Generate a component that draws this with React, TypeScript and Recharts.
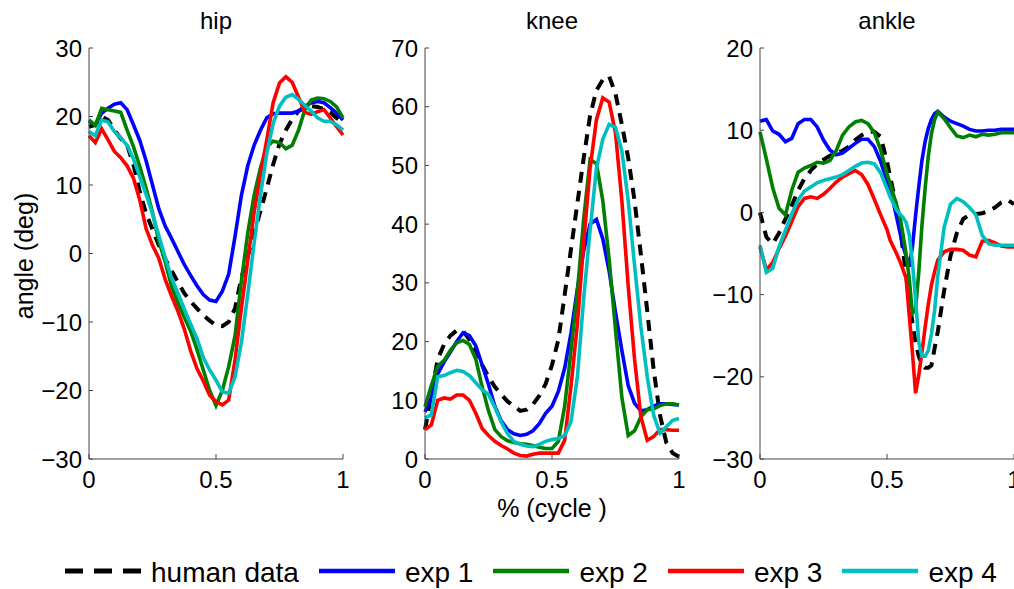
import { LineChart, Line, XAxis, YAxis, Legend } from 'recharts';

const FONT = '"Liberation Sans", Arial, Helvetica, sans-serif';

// x positions (fraction of gait cycle)
const cycle = [0, 0.025, 0.05, 0.075, 0.1, 0.125, 0.15, 0.175, 0.2, 0.225, 0.25, 0.275, 0.3, 0.325, 0.35, 0.375, 0.4, 0.425, 0.45, 0.475, 0.5, 0.525, 0.55, 0.575, 0.6, 0.625, 0.65, 0.675, 0.7, 0.725, 0.75, 0.775, 0.8, 0.825, 0.85, 0.875, 0.9, 0.925, 0.95, 0.975, 1];
const ankleCycle = [0, 0.025, 0.05, 0.075, 0.1, 0.125, 0.15, 0.175, 0.2, 0.225, 0.25, 0.275, 0.3, 0.325, 0.35, 0.375, 0.4, 0.425, 0.45, 0.475, 0.5, 0.5125, 0.525, 0.5375, 0.55, 0.5625, 0.575, 0.5875, 0.6, 0.6125, 0.625, 0.6375, 0.65, 0.6625, 0.675, 0.6875, 0.7, 0.725, 0.75, 0.775, 0.8, 0.825, 0.85, 0.875, 0.9, 0.925, 0.95, 0.975, 1];

// hip (deg)
const hipHuman = [18.5, 18.8, 20, 19.5, 18, 16.8, 15.8, 13, 9, 5.8, 3.5, 1.2, -0.8, -2.5, -4.2, -5.8, -7, -8, -9, -9.8, -10.5, -10.6, -10, -8, -3.5, -0.4, 2.9, 6.2, 9.5, 13, 16, 18, 19.6, 20.8, 21.3, 21.5, 21.4, 21.1, 20.6, 19.8, 19];
const hipExp1 = [19.3, 18.8, 20.5, 21.2, 21.8, 22, 21, 18.8, 16.5, 13.5, 10, 6.5, 4, 2.2, 0.3, -1.6, -3.2, -4.7, -6, -6.8, -7, -5.5, -3, 2.5, 8.5, 12.8, 15.8, 18, 19.8, 20.4, 20.5, 20.5, 20.5, 20.8, 21.5, 22, 22.2, 22, 21.3, 20.5, 19.5];
const hipExp2 = [19.5, 18.7, 21.2, 21, 20.8, 20.6, 18, 15.6, 12.7, 9.5, 6, 1.8, -1.2, -4.8, -7.2, -9.3, -11.3, -14, -17, -20, -22.2, -20, -16.5, -12, -4, 3, 8.5, 12.5, 15.6, 16.4, 16.2, 15.3, 15.8, 18, 21, 22.4, 22.7, 22.6, 22.2, 21.4, 19.8];
const hipExp3 = [17.2, 16.2, 18.2, 16.6, 14.9, 14, 12.8, 11, 7.8, 3.6, 1.2, -0.7, -3.8, -6.2, -8.4, -11, -14.2, -16.8, -18.6, -20.7, -21.6, -22.1, -21.4, -15.5, -8, -1, 6, 11.5, 16.6, 22, 24.9, 25.8, 25, 22.8, 20.6, 20.3, 20.7, 21, 19.8, 18.5, 17.3];
const hipExp4 = [17.8, 17.2, 19.5, 19.2, 17.8, 16.9, 15.8, 13.8, 11.2, 8.6, 5.8, 2.6, -0.6, -3.6, -5.8, -8.1, -10.3, -12.4, -15.2, -17, -18.5, -20.2, -20.4, -18, -13, -6, 1.5, 8.5, 14.6, 19, 21.5, 22.8, 23.2, 22.5, 21.6, 20.8, 19.8, 19.3, 19.3, 18.8, 18];

// knee (deg)
const kneeHuman = [5, 11, 17, 19.5, 21, 21.9, 21.8, 20.3, 18.5, 16, 14, 12.3, 11, 9.8, 9, 8.2, 8.4, 9.3, 10.8, 12.8, 16, 20.3, 28, 35.8, 43.6, 51.3, 58.5, 62.8, 64.6, 65.2, 62.2, 57, 51.3, 44, 34.8, 25.2, 15.3, 7.5, 2.8, 1, 0.4];
const kneeExp1 = [8, 10.5, 14.5, 16.5, 18.2, 20, 21.5, 21, 19.3, 16, 12.7, 9, 6.5, 5, 4.3, 4, 4.2, 4.8, 6, 7.8, 9, 11.5, 15.5, 21.5, 29, 35.5, 40, 40.8, 37.5, 32, 25, 18.5, 12.5, 9.5, 8.2, 8.4, 9, 9.4, 9.4, 9.3, 9.2];
const kneeExp2 = [8.9, 12.5, 15.8, 16.8, 18.5, 19.8, 20.2, 19.5, 17, 12.3, 8.2, 5, 3.8, 3.1, 2.8, 2.6, 2.5, 2.3, 2, 1.8, 1.8, 3, 9, 18.5, 28.5, 41, 51, 50.3, 44, 34, 22, 10.5, 4, 4.8, 7.2, 8.4, 8.5, 9.1, 9.4, 9.4, 9.2];
const kneeExp3 = [5, 5.8, 10, 10.4, 10.2, 10.9, 10.9, 10, 7.8, 5.2, 4, 3, 2.3, 1.7, 1, 0.6, 0.5, 0.8, 1, 1, 1, 1, 3.2, 12.5, 23, 37, 49.5, 57.8, 61.5, 60.8, 55.5, 44, 29.5, 17, 7.2, 3.2, 3.8, 5, 5, 4.9, 4.9];
const kneeExp4 = [7, 7.5, 14, 14.2, 14.7, 15.1, 14.9, 14.2, 13, 11.8, 11, 8.8, 6.3, 4.3, 3, 2.5, 2.2, 2.1, 2.5, 3, 3.3, 3.5, 4, 6.4, 14, 27.5, 39, 49.5, 54.5, 57, 56.5, 52.5, 44, 33, 22.5, 14, 7.5, 4.4, 5.5, 6.6, 6.9];

// ankle (deg)
const ankleHuman = [0, -3, -3.8, -2.5, -0.8, 0.8, 2.7, 4.1, 5.1, 5.9, 6.4, 6.9, 7.2, 7.5, 8, 8.8, 9.4, 9.8, 9.8, 9.2, 6.2, 4.3, 2.5, 0.6, -1.5, -4.5, -7.6, -10.5, -13.4, -15.8, -17.5, -18.5, -18.9, -18.9, -18.6, -16.5, -14.5, -9.5, -5.3, -2.5, -0.8, -0.3, -0.2, -0.1, 0.2, 0.6, 1.2, 1.5, 1];
const ankleExp1 = [11.1, 11.3, 9.9, 9.5, 8.6, 9, 10.8, 11.3, 11.3, 10.4, 8.8, 7.6, 7, 7.2, 7.8, 8.4, 8.9, 8.9, 8, 6.2, 3.8, 2.7, 1.2, -0.5, -2.3, -4, -5.3, -6.6, -4.2, -0.4, 3.1, 6.3, 8.6, 10.2, 11.3, 12, 12.3, 11.6, 11.1, 10.8, 10.5, 10.1, 9.9, 9.9, 10, 10, 10.1, 10.1, 10.1];
const ankleExp2 = [9.8, 6.5, 3, 0.5, -0.3, 2.7, 4.9, 5.4, 5.7, 6.1, 6, 6.3, 7.5, 9.4, 10.4, 11, 11.2, 10.8, 9.7, 7.6, 4.7, 3.5, 2.2, 0.9, -0.4, -2.6, -5, -8, -12.3, -11.8, -7.3, -1.6, 2.9, 6.8, 9.6, 11.3, 12.2, 11.4, 10.3, 9.3, 9.1, 9.4, 9.2, 9.5, 9.4, 9.5, 9.7, 9.7, 9.7];
const ankleExp3 = [-4.2, -7, -6.1, -4.4, -2.9, -1.1, 0.7, 1.7, 1.9, 1.7, 2.2, 2.9, 3.7, 4.3, 4.7, 5.1, 4.6, 3.4, 1.6, -0.3, -2.1, -3.4, -4.2, -5, -5.9, -6.9, -8, -12.5, -17, -22, -19.8, -17, -14, -11.2, -8.8, -7.2, -5.8, -4.8, -4.5, -4.5, -4.6, -5.2, -5.4, -3.5, -3.4, -3.7, -4.1, -4.2, -4.2];
const ankleExp4 = [-4, -7.3, -6.8, -4.2, -2.2, -0.2, 1.5, 2.6, 3.1, 3.6, 3.9, 4.1, 4.3, 4.6, 5.1, 5.6, 6, 6.1, 5.9, 4.8, 2.9, 1.9, 1.1, 0.3, -0.2, -0.6, -1.2, -2.7, -6, -10.5, -15.8, -17.5, -17.5, -16.8, -14.8, -11.9, -7.7, -1.8, 1, 1.7, 1.3, 0.6, -0.3, -2.8, -3.8, -4, -4, -4, -4];

const xTicks = [0, 0.5, 1];
const hipTicks = [-30, -20, -10, 0, 10, 20, 30];
const kneeTicks = [0, 10, 20, 30, 40, 50, 60, 70];
const ankleTicks = [-30, -20, -10, 0, 10, 20];

const seriesKeys = ['human', 'exp1', 'exp2', 'exp3', 'exp4'];
const seriesNames = ['human data', 'exp 1', 'exp 2', 'exp 3', 'exp 4'];
const seriesColors = ['#000000', '#0000ff', '#008000', '#ff0000', '#00bfbf'];

const toRows = (xs: number[], cols: number[][]) =>
  xs.map((c, i) => {
    const row: Record<string, number> = { c };
    seriesKeys.forEach((k, j) => (row[k] = cols[j][i]));
    return row;
  });

const hipRows = toRows(cycle, [hipHuman, hipExp1, hipExp2, hipExp3, hipExp4]);
const kneeRows = toRows(cycle, [kneeHuman, kneeExp1, kneeExp2, kneeExp3, kneeExp4]);
const ankleRows = toRows(ankleCycle, [ankleHuman, ankleExp1, ankleExp2, ankleExp3, ankleExp4]);

const AXIS = '#444';
const fmt = (v: number) => (v < 0 ? '\u2212' + Math.abs(v) : String(v));

const XTick = (p: any) => (
  <g>
    <line x1={p.x} x2={p.x} y1={p.y} y2={p.y - 5} stroke={AXIS} />
    <text x={p.x} y={p.y + 29} textAnchor="middle" fontSize={24} fontFamily={FONT} fill="#000">
      {fmt(p.payload.value)}
    </text>
  </g>
);

const YTick = (p: any) => (
  <g>
    <line x1={p.x} x2={p.x + 4} y1={p.y} y2={p.y} stroke={AXIS} />
    <text x={p.x - 7} y={p.y + 8.5} textAnchor="end" fontSize={24} fontFamily={FONT} fill="#000">
      {fmt(p.payload.value)}
    </text>
  </g>
);

const LegendRow = () => (
  <div style={{ display: 'flex', alignItems: 'center', height: 40, paddingLeft: 65, fontFamily: FONT, fontSize: 28, color: '#000' }}>
    {seriesNames.map((name, i) => (
      <div key={name} style={{ display: 'flex', alignItems: 'center', marginRight: 20 }}>
        <svg width={76} height={10}>
          <line x1={0} x2={76} y1={5} y2={5} stroke={seriesColors[i]} strokeWidth={i === 0 ? 5 : 4.5}
            strokeDasharray={i === 0 ? '18 11' : undefined} />
        </svg>
        <span style={{ marginLeft: 10, lineHeight: '28px', position: 'relative', top: 2, whiteSpace: 'nowrap' }}>{name}</span>
      </div>
    ))}
  </div>
);

interface PanelProps {
  title: string;
  rows: Record<string, number>[];
  domain: [number, number];
  ticks: number[];
  left: number;
  width: number;
  axisWidth: number;
  right: number;
  legend?: boolean;
}

const Panel = ({ title, rows, domain, ticks, left, width, axisWidth, right, legend }: PanelProps) => (
  <div style={{ position: 'absolute', left, top: 0 }}>
    <div style={{ position: 'absolute', left: axisWidth, top: 9, width: width - axisWidth - right, textAlign: 'center', fontSize: 24, lineHeight: '24px', fontFamily: FONT, zIndex: 2 }}>
      {title}
    </div>
    <LineChart width={width} height={589} data={rows} margin={{ top: 48, right, bottom: 100, left: 0 }}>
      <XAxis dataKey="c" type="number" domain={[0, 1]} ticks={xTicks} interval={0} height={30}
        tickLine={false} tickSize={0} tickMargin={0} axisLine={{ stroke: AXIS }} tick={(p: any) => <XTick {...p} />} />
      <YAxis type="number" domain={domain} ticks={ticks} interval={0} width={axisWidth}
        tickLine={false} tickSize={0} tickMargin={0} axisLine={{ stroke: AXIS }} tick={(p: any) => <YTick {...p} />} />
      {seriesKeys.map((k, i) => (
        <Line key={k} dataKey={k} type="linear" stroke={seriesColors[i]} strokeWidth={i === 0 ? 4 : 3.6}
          strokeDasharray={i === 0 ? '11 8' : undefined} dot={false} activeDot={false} isAnimationActive={false} />
      ))}
      {legend && (
        <Legend layout="horizontal" verticalAlign="middle" align="center"
          wrapperStyle={{ left: 0, top: 551, width: 1014, height: 40, margin: 0 }} content={() => <LegendRow />} />
      )}
    </LineChart>
  </div>
);

export default function App() {
  return (
    <div style={{ position: 'absolute', left: 0, top: 0, width: 1014, height: 589, background: '#fff', fontFamily: FONT, overflow: 'hidden' }}>
      <Panel title="hip" rows={hipRows} domain={[-30, 30]} ticks={hipTicks} left={0} width={360} axisWidth={89} right={17} legend />
      <Panel title="knee" rows={kneeRows} domain={[0, 70]} ticks={kneeTicks} left={340} width={360} axisWidth={85} right={21} />
      <Panel title="ankle" rows={ankleRows} domain={[-30, 20]} ticks={ankleTicks} left={680} width={334} axisWidth={80} right={0} />
      <div style={{ position: 'absolute', left: 24 - 100, top: 256 - 15, width: 200, height: 30, lineHeight: '30px', fontSize: 25, textAlign: 'center', transform: 'rotate(-90deg)' }}>
        angle (deg)
      </div>
      <div style={{ position: 'absolute', left: 425, top: 496, width: 254, textAlign: 'center', fontSize: 25, lineHeight: '25px' }}>
        % (cycle )
      </div>
    </div>
  );
}
